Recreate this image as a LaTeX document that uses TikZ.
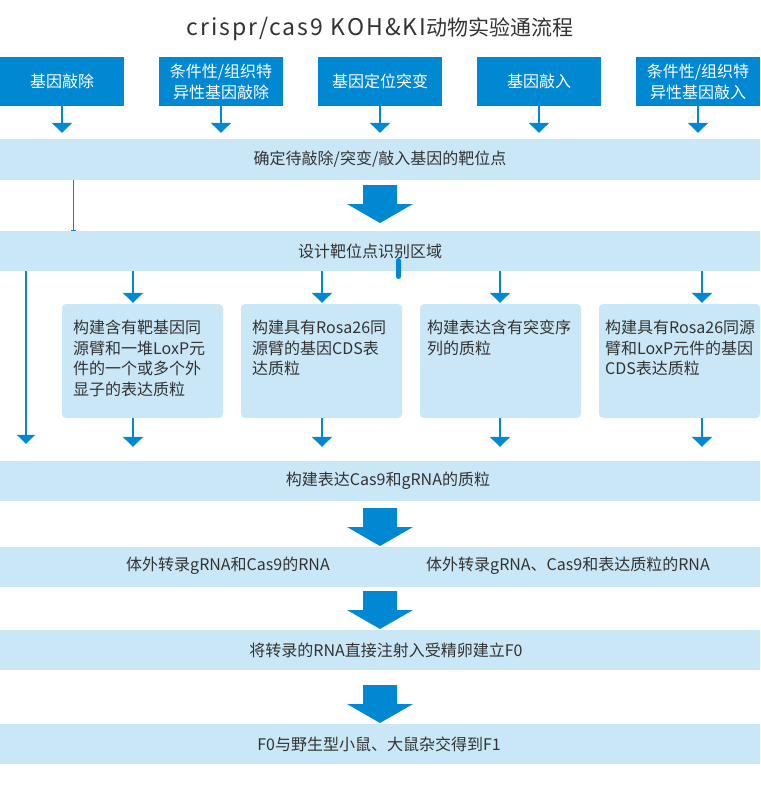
\documentclass[tikz,border=0pt]{standalone}
\usepackage{fontspec}
\setmainfont{Noto Sans CJK SC}
\usetikzlibrary{arrows.meta}
\definecolor{mainblue}{RGB}{0,136,210}
\definecolor{lightband}{RGB}{201,231,246}
\definecolor{txt}{RGB}{51,51,51}
\begin{document}
\begin{tikzpicture}[x=1pt,y=-1pt,
  topbox/.style={fill=mainblue, text=white, minimum width=124pt, minimum height=49pt, inner sep=0pt, align=center, font=\fontsize{16}{21}\selectfont},
  band/.style={fill=lightband, minimum width=760pt, minimum height=40pt, inner sep=0pt},
  bandtext/.style={text=txt, inner sep=0pt, font=\fontsize{16}{18}\selectfont},
  subbox/.style={fill=lightband, rounded corners=4pt, minimum width=161pt, minimum height=114pt, inner sep=0pt},
  boxtext/.style={anchor=north west, inner sep=0pt, align=left, text=txt, font=\fontsize{16}{20.5}\selectfont},
  arr/.style={draw=mainblue, line width=2.5pt, -{Triangle[width=20pt,length=10pt]}},
  blockarr/.pic={\fill[mainblue] (-17,0) -- (17,0) -- (17,19) -- (33,19) -- (0,38) -- (-33,19) -- (-17,19) -- cycle;}
]
\useasboundingbox (0,0) rectangle (760,789);

% title
\node[text=txt, inner sep=0pt] (title) at (380,29) {{\fontsize{23}{28}\selectfont\addfontfeature{LetterSpace=9}crispr/cas9 KOH\&KI}{\fontsize{21}{28}\selectfont 动物实验通流程}};

% top boxes
\node[topbox] (t1) at (62,81.5) {基因敲除};
\node[topbox] (t2) at (221,81.5) {条件性/组织特\\异性基因敲除};
\node[topbox] (t3) at (380,81.5) {基因定位突变};
\node[topbox] (t4) at (539,81.5) {基因敲入};
\node[topbox] (t5) at (698,81.5) {条件性/组织特\\异性基因敲入};

% bands
\node[band, minimum height=41pt] (b1) at (380,159.5) {};
\node[band] (b2) at (380,251) {};
\node[band] (b3) at (380,481) {};
\node[band] (b4) at (380,567) {};
\node[band] (b5) at (380,650) {};
\node[band] (b6) at (380,744) {};

\node[bandtext] (b1t) at (380,159.5) {确定待敲除/突变/敲入基因的靶位点};
\node[bandtext] (b2t) at (370,251) {设计靶位点识别区域};
\node[bandtext] (b3t) at (388,481) {构建表达Cas9和gRNA的质粒};
\node[bandtext] (b4l) at (228,566) {体外转录gRNA和Cas9的RNA};
\node[bandtext] (b4r) at (568,566) {体外转录gRNA、Cas9和表达质粒的RNA};
\node[bandtext] (b5t) at (386,650) {将转录的RNA直接注射入受精卵建立F0};
\node[bandtext] (b6t) at (379,744) {F0与野生型小鼠、大鼠杂交得到F1};

% sub boxes
\node[subbox] (sA) at (142.5,361) {};
\node[subbox] (sB) at (321.5,361) {};
\node[subbox] (sC) at (500.5,361) {};
\node[subbox] (sD) at (679.5,361) {};

\node[boxtext] (tA) at (73,320) {构建含有靶基因同\\源臂和一堆LoxP元\\件的一个或多个外\\显子的表达质粒};
\node[boxtext] (tB) at (252,320) {构建具有Rosa26同\\源臂的基因CDS表\\达质粒};
\node[boxtext] (tC) at (427,320) {构建表达含有突变序\\列的质粒};
\node[boxtext] (tD) at (605,320) {构建具有Rosa26同源\\臂和LoxP元件的基因\\CDS表达质粒};

% arrow x positions
\coordinate (xA) at (133,0);
\coordinate (xB) at (322,0);
\coordinate (xC) at (500,0);
\coordinate (xD) at (702,0);
\coordinate (xL) at (26,0);
\coordinate (xT) at (73,0);

% top arrows
\foreach \n in {t1,t2,t3,t4,t5}
  \draw[arr, shorten >=6pt] (\n.south) -- (\n.south |- b1.north);

% thin line
\draw[mainblue, line width=0.8pt, -{Bar[width=5pt]}] (xT |- b1.south) -- (xT |- b2.north);

% band2 to sub boxes and sub boxes to band3
\foreach \x/\b in {xA/sA, xB/sB, xC/sC, xD/sD} {
  \draw[arr, shorten >=1pt] (\x |- b2.south) -- (\x |- \b.north);
  \draw[arr, shorten >=14pt] (\x |- \b.south) -- (\x |- b3.north);
}
% left long arrow
\draw[draw=mainblue, line width=2.3pt, -{Triangle[width=18pt,length=9pt]}, shorten >=17pt] (xL |- b2.south) -- (xL |- b3.north);

% small bar
\fill[mainblue, rounded corners=2.5pt] (396,258) rectangle (401,279);

% block arrows
\pic at (380,185) {blockarr};
\pic at (380,508) {blockarr};
\pic at (380,591) {blockarr};
\pic at (380,685) {blockarr};
\end{tikzpicture}
\end{document}
